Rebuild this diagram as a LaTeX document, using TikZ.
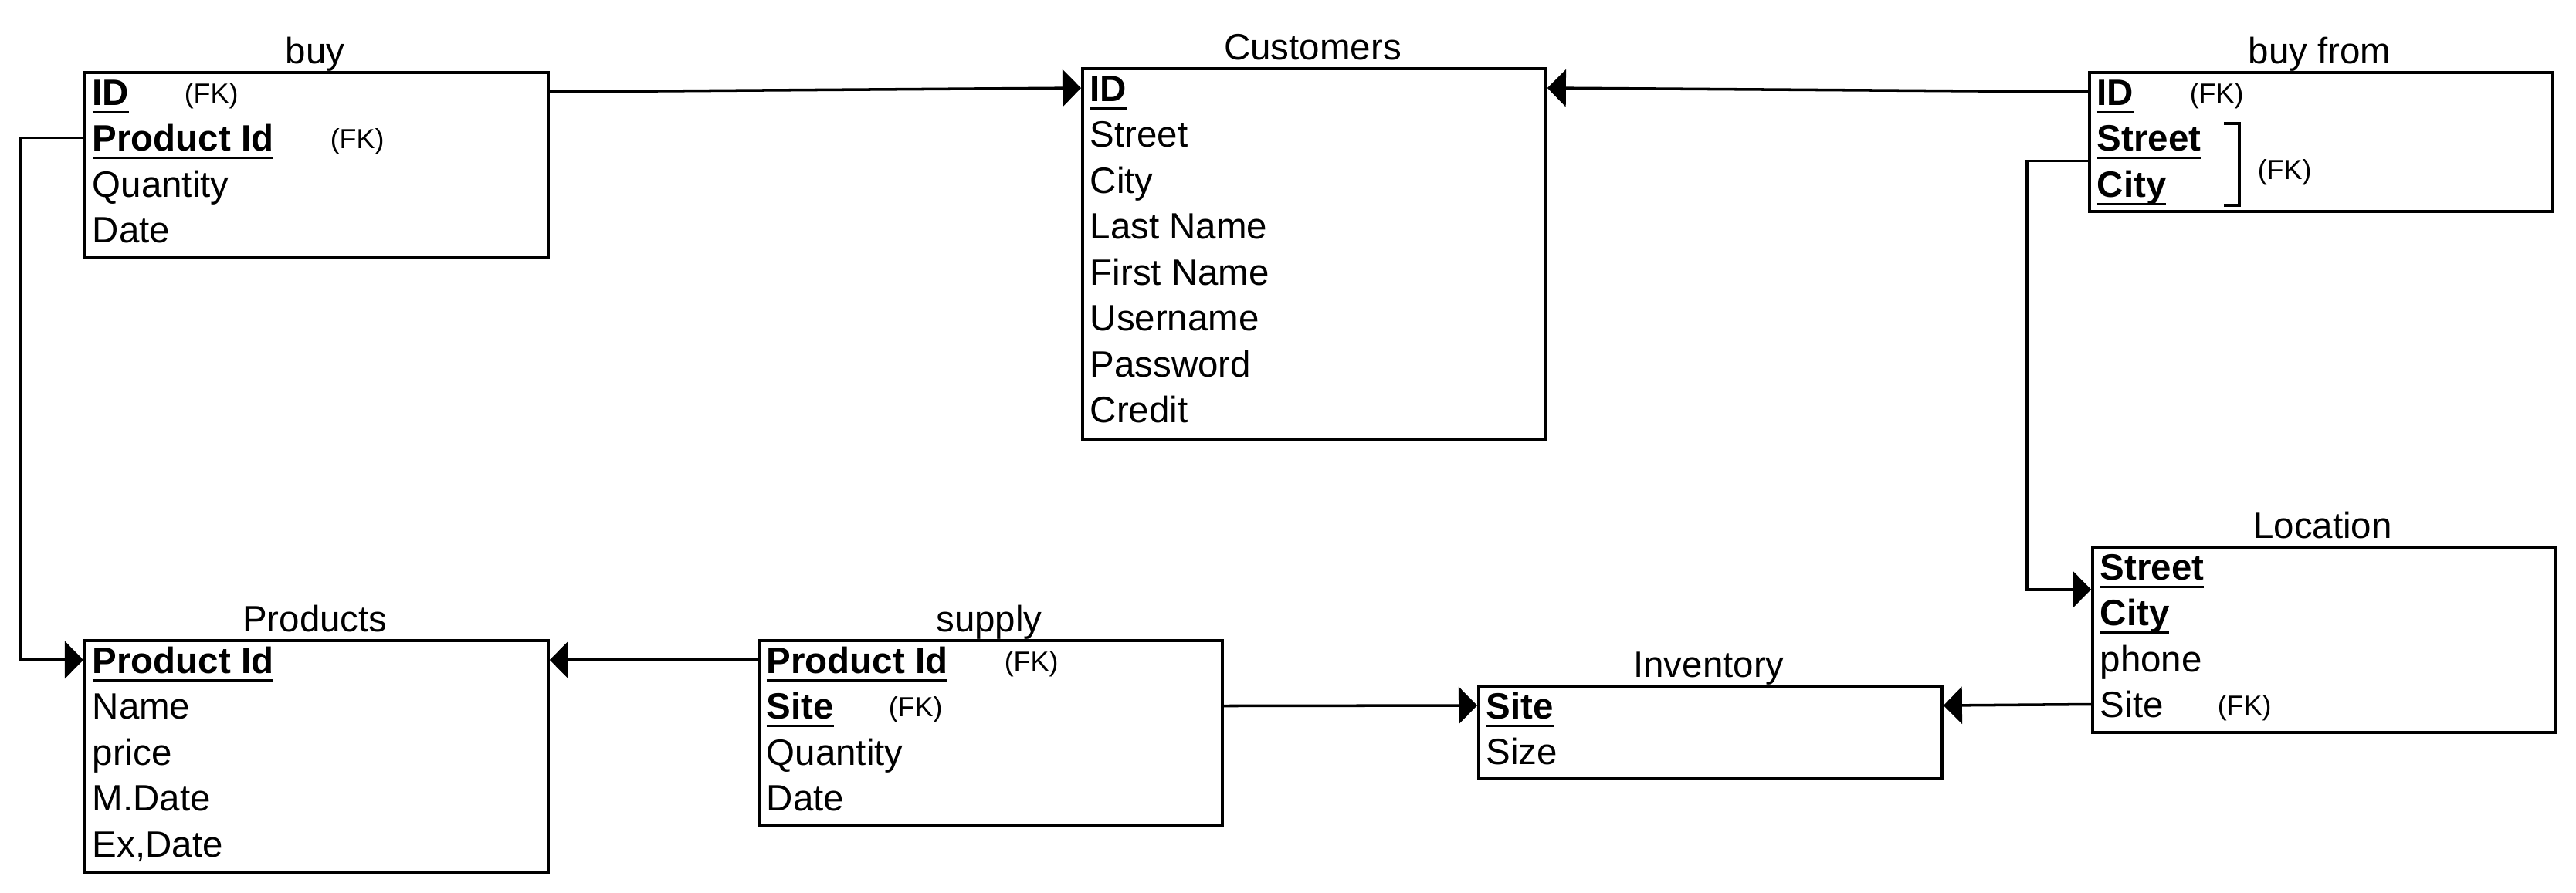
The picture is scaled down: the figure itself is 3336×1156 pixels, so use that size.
\documentclass[tikz,border=0pt]{standalone}
\usepackage{fontspec}
\setmainfont{Liberation Sans}
\usetikzlibrary{arrows.meta,calc}
\newlength\keywd
\newcommand{\keyfield}[1]{\settowidth{\keywd}{\textbf{#1}}\textbf{#1}\hspace{-\keywd}\rule[-3.1pt]{\keywd}{0.85pt}}

\begin{document}
\begin{tikzpicture}[x=0.01cm,y=-0.01cm,line width=1pt]
	\tikzstyle{every node}+=[inner sep=0pt]
	\tikzstyle{entity}=[draw,anchor=north west,minimum width=6cm]
	\tikzstyle{tabtitle}=[anchor=base,font=\fontsize{13.5}{16}\selectfont]
	\tikzstyle{field}=[anchor=base west,text height=0.34cm,text depth=0pt,font=\fontsize{13.5}{16}\selectfont]
	\tikzstyle{fk}=[anchor=base west,font=\fontsize{10.2}{12}\selectfont]
	\tikzstyle{fkey}=[-{Triangle[length=0.24cm,width=0.48cm]}]
	\fill [white] (0,0) rectangle (3336,1156);
	\useasboundingbox (0,0) rectangle (3336,1156);
	\node [entity,minimum height=2.4cm] (buy) at (108,92) {};
	\node [tabtitle] (buyt) at (408,82) {buy};
	\node [field] (buyid) at (118,136) {\keyfield{ID}};
	\node [fk] (buyidfk) at (237,133) {(FK)};
	\node [field] (buypid) at (118,195.5) {\keyfield{Product Id}};
	\node [fk] (buypidfk) at (426,192.5) {(FK)};
	\node [field] (buyqty) at (118,255) {Quantity};
	\node [field] (buydate) at (118,314.5) {Date};
	\node [entity,minimum height=4.8cm] (cust) at (1400,87) {};
	\node [tabtitle] (custt) at (1700,77) {Customers};
	\node [field] (custid) at (1410,131) {\keyfield{ID}};
	\node [field] (custstreet) at (1410,190.5) {Street};
	\node [field] (custcity) at (1410,250) {City};
	\node [field] (custlast) at (1410,309.5) {Last Name};
	\node [field] (custfirst) at (1410,369) {First Name};
	\node [field] (custuser) at (1410,428.5) {Username};
	\node [field] (custpass) at (1410,488) {Password};
	\node [field] (custcredit) at (1410,547.5) {Credit};
	\node [entity,minimum height=1.8cm] (bf) at (2704,92) {};
	\node [tabtitle] (bft) at (3004,82) {buy from};
	\node [field] (bfid) at (2714,136) {\keyfield{ID}};
	\node [fk] (bfidfk) at (2834,133) {(FK)};
	\node [field] (bfstreet) at (2714,195.5) {\keyfield{Street}};
	\node [field] (bfcity) at (2714,255) {\keyfield{City}};
	\node [fk] (bfaddrfk) at (2922,232) {(FK)};
	\draw (2880,160) -- (2900,160) -- (2900,266) -- (2880,266);
	\node [entity,minimum height=2.4cm] (loc) at (2708,707) {};
	\node [tabtitle] (loct) at (3008,697) {Location};
	\node [field] (locstreet) at (2718,751) {\keyfield{Street}};
	\node [field] (loccity) at (2718,810.5) {\keyfield{City}};
	\node [field] (locphone) at (2718,870) {phone};
	\node [field] (locsite) at (2718,929.5) {Site};
	\node [fk] (locsitefk) at (2870,926.5) {(FK)};
	\node [entity,minimum height=3cm] (prod) at (108,828) {};
	\node [tabtitle] (prodt) at (408,818) {Products};
	\node [field] (prodpid) at (118,872) {\keyfield{Product Id}};
	\node [field] (prodname) at (118,931.5) {Name};
	\node [field] (prodprice) at (118,991) {price};
	\node [field] (prodmdate) at (118,1050.5) {M.Date};
	\node [field] (prodexdate) at (118,1110) {Ex,Date};
	\node [entity,minimum height=2.4cm] (sup) at (981,828) {};
	\node [tabtitle] (supt) at (1281,818) {supply};
	\node [field] (suppid) at (991,872) {\keyfield{Product Id}};
	\node [fk] (suppidfk) at (1299,869) {(FK)};
	\node [field] (supsite) at (991,931.5) {\keyfield{Site}};
	\node [fk] (supsitefk) at (1149,928.5) {(FK)};
	\node [field] (supqty) at (991,991) {Quantity};
	\node [field] (supdate) at (991,1050.5) {Date};
	\node [entity,minimum height=1.2cm] (inv) at (1913,887) {};
	\node [tabtitle] (invt) at (2213,877) {Inventory};
	\node [field] (invsite) at (1923,931) {\keyfield{Site}};
	\node [field] (invsize) at (1923,990.5) {Size};
	\coordinate (lbend) at (27,0);
	\coordinate (rbend) at (2625,0);
	\coordinate (bfmid) at ($(bfstreet.west)!.5!(bfcity.west)$);
	\coordinate (locmid) at ($(locstreet.west)!.5!(loccity.west)$);
	\draw [fkey] (buyid.west -| buy.east) -- (custid.west -| cust.west);
	\draw [fkey] (bfid.west -| bf.west) -- (custid.west -| cust.east);
	\draw [fkey] (buypid.west -| buy.west) -- (buypid.west -| lbend) |- (prodpid.west -| prod.west);
	\draw [fkey] (bfmid -| bf.west) -- (bfmid -| rbend) |- (locmid -| loc.west);
	\draw [fkey] (suppid.west -| sup.west) -- (prodpid.west -| prod.east);
	\draw [fkey] (supsite.west -| sup.east) -- (invsite.west -| inv.west);
	\draw [fkey] (locsite.west -| loc.west) -- (invsite.west -| inv.east);
\end{tikzpicture}
\end{document}
